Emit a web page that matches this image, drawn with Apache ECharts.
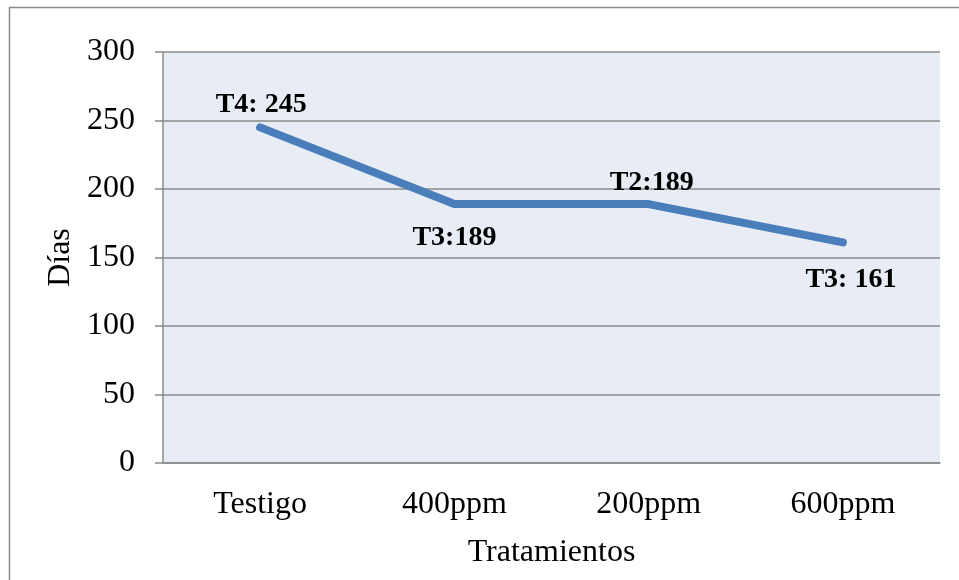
<!DOCTYPE html>
<html>
<head>
<meta charset="utf-8">
<script src="https://cdn.jsdelivr.net/npm/echarts@6/dist/echarts.min.js"></script>
<style>
  html, body { margin: 0; padding: 0; background: #ffffff; }
  #chart { width: 959px; height: 580px; }
</style>
</head>
<body>
<div id="chart"></div>
<script>
// Treatments on the category axis
const categories = ['Testigo', '400ppm', '200ppm', '600ppm'];
// Days per treatment
const dias = [245, 189, 189, 161];
// Text shown next to each point
const pointLabels = ['T4: 245', 'T3:189', 'T2:189', 'T3: 161'];
// Value axis ticks
const yTicks = [0, 50, 100, 150, 200, 250, 300];

const FONT = '"Liberation Serif", "Times New Roman", serif';
const GRID_GRAY = '#8a8a8a';

// Where each label sits relative to its point
const labelPlacement = [
  { position: 'top', distance: 8, offset: [1, 0] },
  { position: 'bottom', distance: 19, offset: [0, 0] },
  { position: 'top', distance: 7, offset: [3, 0] },
  { position: 'bottom', distance: 23, offset: [8, 0] }
];

const seriesData = dias.map((v, i) => ({
  value: v,
  label: Object.assign({}, labelPlacement[i], {
    show: true,
    formatter: pointLabels[i]
  })
}));

const chart = echarts.init(document.getElementById('chart'), null, { renderer: 'canvas' });

chart.setOption({
  animation: false,
  backgroundColor: '#ffffff',
  graphic: [{
    type: 'rect',
    shape: { x: 9.5, y: 7.5, width: 980, height: 600 },
    style: { fill: 'none', stroke: '#8c8c8c', lineWidth: 1.5 },
    silent: true
  }],
  grid: {
    left: 163, right: 19, top: 52, bottom: 117,
    show: true,
    backgroundColor: '#e8edf5',
    borderWidth: 0
  },
  xAxis: {
    type: 'category',
    data: categories,
    boundaryGap: true,
    name: 'Tratamientos',
    nameLocation: 'middle',
    nameGap: 74,
    nameTextStyle: { fontFamily: FONT, fontSize: 32, color: '#000' },
    axisLine: { show: true, lineStyle: { color: GRID_GRAY, width: 1.5 } },
    axisTick: { show: false },
    axisLabel: { fontFamily: FONT, fontSize: 32, color: '#000', margin: 26 },
    splitLine: { show: false }
  },
  yAxis: {
    type: 'value',
    min: yTicks[0],
    max: yTicks[yTicks.length - 1],
    interval: yTicks[1] - yTicks[0],
    name: 'Días',
    nameLocation: 'middle',
    nameGap: 84,
    nameRotate: 90,
    nameTextStyle: { fontFamily: FONT, fontSize: 32, color: '#000' },
    axisLine: { show: true, lineStyle: { color: GRID_GRAY, width: 1.5 } },
    axisTick: { show: true, inside: false, length: 8, lineStyle: { color: GRID_GRAY, width: 1.5 } },
    axisLabel: { fontFamily: FONT, fontSize: 32, color: '#000', margin: 28 },
    splitLine: { show: true, lineStyle: { color: GRID_GRAY, width: 1.5 } }
  },
  series: [{
    type: 'line',
    data: seriesData,
    symbol: 'circle',
    symbolSize: 1,
    showSymbol: true,
    itemStyle: { color: '#4a7ebb' },
    lineStyle: { color: '#4a7ebb', width: 8, cap: 'round', join: 'round' },
    label: {
      fontFamily: FONT,
      fontSize: 28,
      fontWeight: 'bold',
      color: '#000'
    },
    z: 3
  }]
});
</script>
</body>
</html>
